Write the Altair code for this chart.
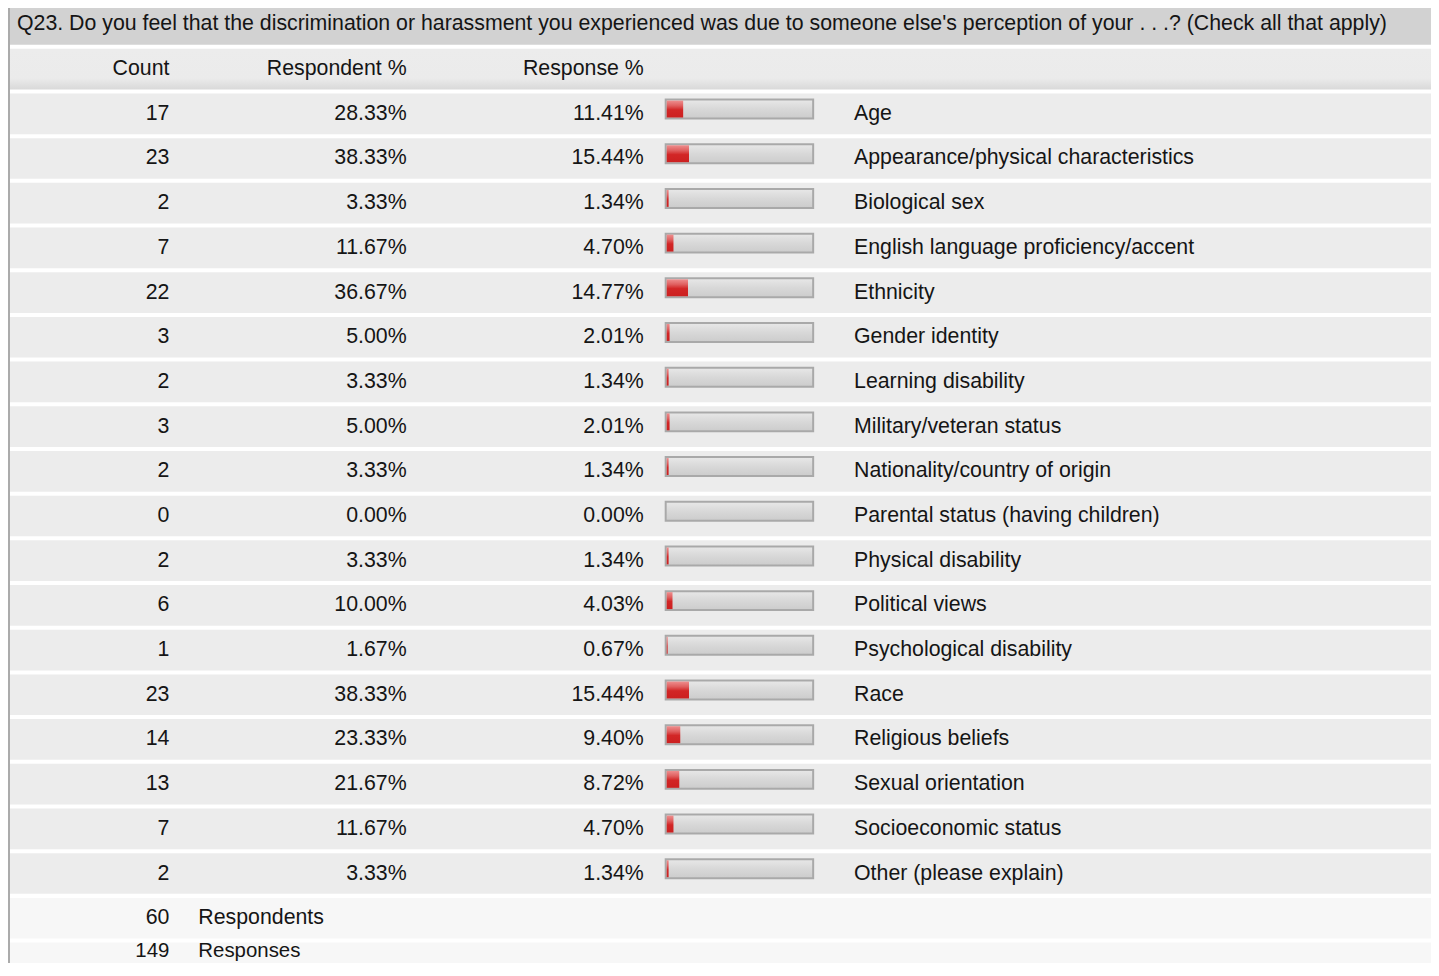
import altair as alt
import pandas as pd

title_text = "Q23. Do you feel that the discrimination or harassment you experienced was due to someone else's perception of your . . .? (Check all that apply)"
header_labels = ["Count", "Respondent %", "Response %"]

labels = ["Age", "Appearance/physical characteristics", "Biological sex",
          "English language proficiency/accent", "Ethnicity", "Gender identity",
          "Learning disability", "Military/veteran status", "Nationality/country of origin",
          "Parental status (having children)", "Physical disability", "Political views",
          "Psychological disability", "Race", "Religious beliefs", "Sexual orientation",
          "Socioeconomic status", "Other (please explain)"]
counts = [17, 23, 2, 7, 22, 3, 2, 3, 2, 0, 2, 6, 1, 23, 14, 13, 7, 2]
respondent_pct = [28.33, 38.33, 3.33, 11.67, 36.67, 5.00, 3.33, 5.00, 3.33, 0.00,
                  3.33, 10.00, 1.67, 38.33, 23.33, 21.67, 11.67, 3.33]
response_pct = [11.41, 15.44, 1.34, 4.70, 14.77, 2.01, 1.34, 2.01, 1.34, 0.00,
                1.34, 4.03, 0.67, 15.44, 9.40, 8.72, 4.70, 1.34]
summary_labels = ["Respondents", "Responses"]
summary_values = [60, 149]

FONT = "Liberation Sans"
FS = 21.4
TXT = "#151515"
W = 1428
H = 955

rows = ["__title", "__header"] + labels + summary_labels

bg_df = pd.DataFrame({
    "row": rows,
    "bg": ["#d2d2d2", "#ececec"] + ["#ececec"] * len(labels) + ["#f7f7f7"] * len(summary_labels),
})
bg_plain = bg_df[bg_df.row != "__header"]
header_bg = bg_df[bg_df.row == "__header"]

data_df = pd.DataFrame({
    "row": labels,
    "count": [str(c) for c in counts],
    "respondent": [f"{v:.2f}%" for v in respondent_pct],
    "response_txt": [f"{v:.2f}%" for v in response_pct],
    "response": response_pct,
})
title_df = pd.DataFrame({"row": ["__title"], "text": [title_text]})
head_df = pd.DataFrame({"row": ["__header"] * 3, "text": header_labels,
                        "col": [0, 1, 2]})
sum_df = pd.DataFrame({"row": summary_labels,
                       "value": [str(v) for v in summary_values],
                       "label": summary_labels})

y_enc = alt.Y("row:N", axis=None, sort=None,
              scale=alt.Scale(domain=rows, range=[-7.6, 979.0], round=False,
                              paddingInner=0.09, paddingOuter=0.045))

bg = alt.Chart(bg_plain).mark_rect().encode(
    y=y_enc, x=alt.value(0), x2=alt.value(W),
    fill=alt.Fill("bg:N", scale=None))

hdr_grad = alt.Gradient(gradient="linear", x1=0, x2=0, y1=0, y2=1, stops=[
    alt.GradientStop(color="#ececec", offset=0),
    alt.GradientStop(color="#ebebeb", offset=0.72),
    alt.GradientStop(color="#d9d9d9", offset=1)])
hbg = alt.Chart(header_bg).mark_rect(fill=hdr_grad).encode(
    y=y_enc, x=alt.value(0), x2=alt.value(W))

border = alt.Chart(bg_df).mark_rect(fill="#ababab").encode(
    y=alt.value(-10), y2=alt.value(H + 10), x=alt.value(0), x2=alt.value(2))

def txt(df, field, xpos, align, dy=0, fs=FS):
    return alt.Chart(df).mark_text(align=align, baseline="middle", font=FONT,
                                   fontSize=fs, color=TXT, dy=dy).encode(
        y=y_enc, x=alt.value(xpos), text=alt.Text(field))

title = txt(title_df, "text:N", 9, "left")
h1 = txt(head_df[head_df.col == 0], "text:N", 162, "right")
h2 = txt(head_df[head_df.col == 1], "text:N", 400, "right")
h3 = txt(head_df[head_df.col == 2], "text:N", 638, "right")

c_count = txt(data_df, "count:N", 162, "right")
c_resp = txt(data_df, "respondent:N", 400, "right")
c_respo = txt(data_df, "response_txt:N", 638, "right")
c_label = txt(data_df, "row:N", 849, "left")

sum1 = sum_df[sum_df.row == "Respondents"]
sum2 = sum_df[sum_df.row == "Responses"]
s_val1 = txt(sum1, "value:N", 162, "right")
s_lab1 = txt(sum1, "label:N", 191, "left")
s_val2 = txt(sum2, "value:N", 162, "right", dy=-12, fs=20.5)
s_lab2 = txt(sum2, "label:N", 191, "left", dy=-12, fs=20.5)

box_grad = alt.Gradient(gradient="linear", x1=0, x2=0, y1=0, y2=1, stops=[
    alt.GradientStop(color="#e8e8e8", offset=0),
    alt.GradientStop(color="#d8d8d8", offset=0.5),
    alt.GradientStop(color="#cccccc", offset=1)])
box = alt.Chart(data_df).mark_bar(height=19, yOffset=-4.8, fill=box_grad,
                                  stroke="#a9a9a9", strokeWidth=2).encode(
    y=y_enc, x=alt.value(660), x2=alt.value(808))

red_grad = alt.Gradient(gradient="linear", x1=0, x2=0, y1=0, y2=1, stops=[
    alt.GradientStop(color="#ee8e8e", offset=0),
    alt.GradientStop(color="#e06060", offset=0.3),
    alt.GradientStop(color="#d22626", offset=0.55),
    alt.GradientStop(color="#cc2020", offset=1)])
red = alt.Chart(data_df).mark_bar(height=17, yOffset=-4.8, fill=red_grad).encode(
    y=y_enc,
    x=alt.X("response:Q", axis=None,
            scale=alt.Scale(domain=[0, 100], range=[661, 806], zero=True, nice=False)))

chart = alt.layer(bg, hbg, border, title, h1, h2, h3, box, red,
                  c_count, c_resp, c_respo, c_label,
                  s_val1, s_lab1, s_val2, s_lab2).properties(
    width=W, height=H, background="white", padding=0,
    autosize=alt.AutoSizeParams(type="none"),
).configure_view(stroke=None)

chart.save("out.html", embed_options={"renderer": "svg", "actions": False})
